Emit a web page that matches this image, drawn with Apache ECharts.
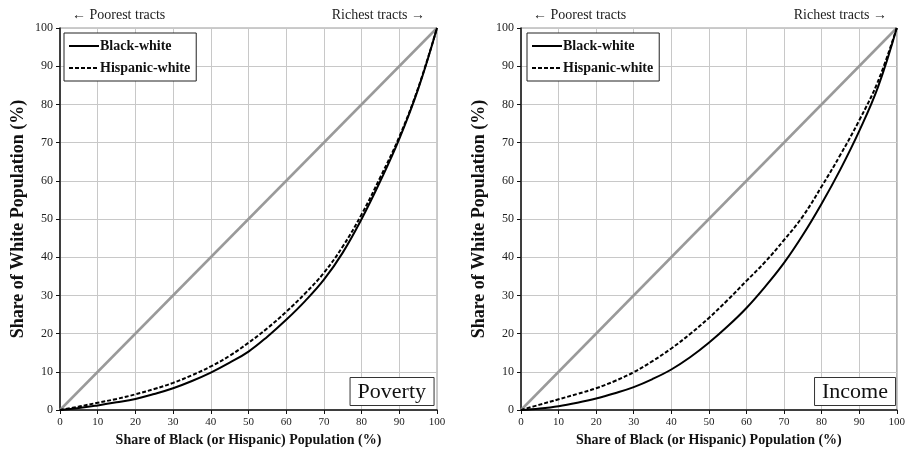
<!DOCTYPE html>
<html><head><meta charset="utf-8">
<script src="https://cdn.jsdelivr.net/npm/echarts@6/dist/echarts.min.js"></script>
<style>html,body{margin:0;padding:0;background:#fff}#c{width:908px;height:459px}</style>
</head><body><div id="c"></div>
<script>
// Shared x positions (share of Black / Hispanic population, %)
var shareX = [0, 5, 10, 15, 20, 25, 30, 35, 40, 45, 50, 55, 60, 65, 70, 75, 80, 85, 90, 95, 100];
// Poverty panel (share of White population, %)
var povBlackY = [0, 0.5, 1.2, 2.0, 2.9, 4.2, 5.7, 7.6, 9.8, 12.4, 15.3, 19.2, 23.6, 28.5, 34.1, 41.2, 50, 60, 71, 84, 100];
var povHispY  = [0, 0.9, 1.9, 2.9, 4.1, 5.5, 7.1, 9.1, 11.4, 14.2, 17.6, 21.4, 25.7, 30.5, 35.9, 42.8, 51.2, 61, 71.5, 84.3, 100];
// Income panel
var incBlackY = [0, 0.4, 1.0, 1.9, 3.0, 4.4, 6.0, 8.1, 10.6, 13.8, 17.6, 21.9, 26.7, 32.3, 38.5, 45.8, 54, 63, 73, 84.5, 100];
var incHispY  = [0, 1.4, 2.8, 4.2, 5.7, 7.6, 9.9, 12.8, 16.1, 19.9, 24.1, 28.8, 33.8, 38.8, 44.5, 50.7, 58.5, 66.8, 75.8, 86, 100];
// Equality line
var eqX = [0, 100];
var eqY = [0, 100];
var axisTicks = [0, 10, 20, 30, 40, 50, 60, 70, 80, 90, 100];
var panelNames = ['Poverty', 'Income'];
var seriesNames = ['Black-white', 'Hispanic-white'];

function pairs(xs, ys) { return xs.map(function (x, i) { return [x, ys[i]]; }); }

var FONT = '"Liberation Serif", "Times New Roman", serif';
var grids = [
  {left: 60, right: 471, top: 28, bottom: 49},
  {left: 521, right: 10, top: 28, bottom: 49}
];
function xAx(i) {
  return {
    type: 'value', gridIndex: i, min: axisTicks[0], max: axisTicks[axisTicks.length - 1], interval: axisTicks[1] - axisTicks[0],
    name: 'Share of Black (or Hispanic) Population (%)', nameLocation: 'middle', nameGap: 23,
    nameTextStyle: {fontFamily: FONT, fontWeight: 'bold', fontSize: 14, color: '#111'},
    axisLine: {lineStyle: {color: '#111', width: 1.5}},
    axisTick: {show: true, length: 4, lineStyle: {color: '#111'}},
    axisLabel: {fontFamily: FONT, fontSize: 11, color: '#222', margin: 7},
    splitLine: {show: true, lineStyle: {color: '#c8c8c8', width: 1}}
  };
}
function yAx(i) {
  return {
    type: 'value', gridIndex: i, min: axisTicks[0], max: axisTicks[axisTicks.length - 1], interval: axisTicks[1] - axisTicks[0],
    name: 'Share of White Population (%)', nameLocation: 'middle', nameGap: 33,
    nameTextStyle: {fontFamily: FONT, fontWeight: 'bold', fontSize: 18, color: '#111'},
    axisLine: {show: true, lineStyle: {color: '#111', width: 1.5}},
    axisTick: {show: true, length: 4, lineStyle: {color: '#111'}},
    axisLabel: {fontFamily: FONT, fontSize: 12, color: '#222', margin: 7},
    splitLine: {show: true, lineStyle: {color: '#c8c8c8', width: 1}}
  };
}
var panels = [[povBlackY, povHispY], [incBlackY, incHispY]];
var series = [];
panels.forEach(function (p, i) {
  series.push({type: 'line', name: 'eq' + i, xAxisIndex: i, yAxisIndex: i, data: pairs(eqX, eqY),
    showSymbol: false, symbol: 'none', silent: true, lineStyle: {color: '#9a9a9a', width: 2.5}, z: 2});
  series.push({type: 'line', name: seriesNames[0], xAxisIndex: i, yAxisIndex: i, data: pairs(shareX, p[0]),
    symbol: 'none', smooth: 0.4, itemStyle: {color: '#000'}, lineStyle: {color: '#000', width: 2, type: 'solid'}, z: 4});
  series.push({type: 'line', name: seriesNames[1], xAxisIndex: i, yAxisIndex: i, data: pairs(shareX, p[1]),
    symbol: 'none', smooth: 0.4, itemStyle: {color: '#000'}, lineStyle: {color: '#000', width: 2, type: [4, 2]}, z: 3});
});
function legend(left) {
  return {
    left: left, top: 33, orient: 'vertical', data: seriesNames, selectedMode: false,
    backgroundColor: '#fff', borderColor: '#222', borderWidth: 1, borderRadius: 0,
    padding: [6, 6, 6, 4], itemGap: 8, itemWidth: 30, itemHeight: 14,
    itemStyle: {opacity: 0},
    lineStyle: {width: 2},
    textStyle: {fontFamily: FONT, fontWeight: 'bold', fontSize: 14, color: '#111', padding: [0, 0, 0, -4]}
  };
}
function topTitle(text, pos) {
  var t = {text: text, top: 8, padding: 0,
    textStyle: {fontFamily: FONT, fontSize: 14, fontWeight: 'normal', color: '#222'}};
  for (var k in pos) t[k] = pos[k];
  return t;
}
function boxTitle(text, right) {
  return {text: text, right: right, bottom: 53, padding: [4, 8, 3, 8],
    borderColor: '#333', borderWidth: 1, backgroundColor: '#fff',
    textStyle: {fontFamily: FONT, fontSize: 22, fontWeight: 'normal', color: '#111'}};
}
var option = {
  animation: false,
  backgroundColor: '#fff',
  grid: grids.map(function (g) { var o = {show: true, borderColor: '#999', borderWidth: 1, backgroundColor: 'transparent'}; for (var k in g) o[k] = g[k]; return o; }),
  xAxis: [xAx(0), xAx(1)],
  yAxis: [yAx(0), yAx(1)],
  legend: [legend(64), legend(527)],
  title: [
    topTitle('\u2190 Poorest tracts', {left: 72}),
    topTitle('Richest tracts \u2192', {right: 908 - 425}),
    topTitle('\u2190 Poorest tracts', {left: 533}),
    topTitle('Richest tracts \u2192', {right: 908 - 887}),
    boxTitle(panelNames[0], 908 - 434),
    boxTitle(panelNames[1], 908 - 896)
  ],
  series: series
};
var chart = echarts.init(document.getElementById('c'), null, {renderer: 'canvas'});
chart.setOption(option);
</script></body></html>
